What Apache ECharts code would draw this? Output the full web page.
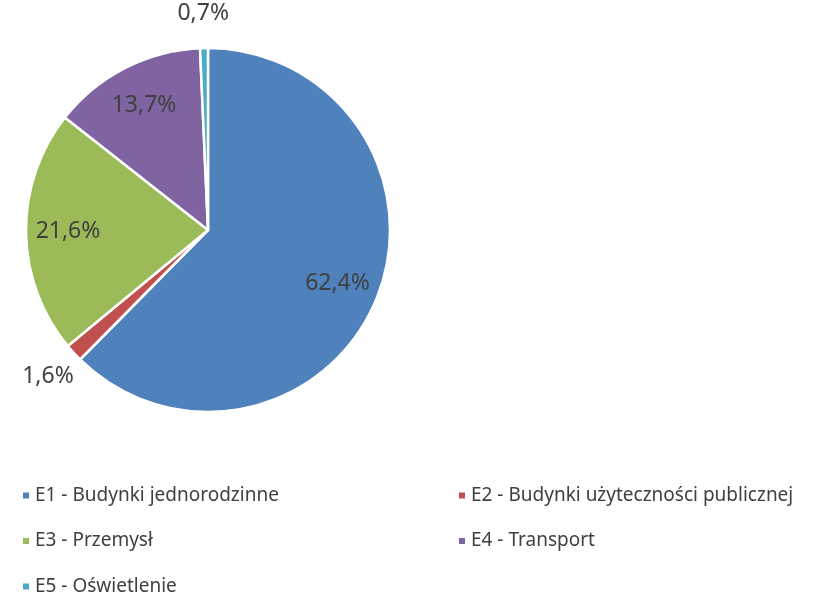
<!DOCTYPE html>
<html><head><meta charset="utf-8">
<script src="https://cdn.jsdelivr.net/npm/echarts@6/dist/echarts.min.js"></script>
<style>html,body{margin:0;padding:0;background:#fff}#c{width:813px;height:596px}</style>
</head><body><div id="c"></div>
<script>
const categories = ['E1 - Budynki jednorodzinne','E2 - Budynki użyteczności publicznej','E3 - Przemysł','E4 - Transport','E5 - Oświetlenie'];
const values = [62.4, 1.6, 21.6, 13.7, 0.7];
const colors = ['#4F81BD','#C0504D','#9BBB59','#8064A2','#4BACC6'];

const fmt = v => v.toFixed(1).replace('.', ',') + '%';
const isSmall = v => v < 5;
const center = [208, 230];
const font = '"Noto Sans", "Open Sans", sans-serif';

const mainData = categories.map((n,i)=>({name:n, value:values[i], itemStyle:{color:colors[i]}}));
const innerLabelData = categories.map((n,i)=>({name:n, value:values[i], label:{show:!isSmall(values[i])}}));
const outerLabelData = categories.map((n,i)=>({name:n, value:values[i], label:{show:isSmall(values[i])}}));

const labelStyle = {position:'inside', formatter: p => fmt(p.value), color:'#404040', fontSize:23, fontFamily:font};
const ghost = {color:'rgba(0,0,0,0)', borderWidth:0};
const legendText = {fontSize:19, color:'#404040', fontFamily:font};

const chart = echarts.init(document.getElementById('c'));
chart.setOption({
  animation:false,
  legend:[
    {orient:'vertical', left:16, top:481, height:130, itemWidth:8, itemHeight:8, itemGap:26.5, icon:'rect',
     data: categories.filter((_,i)=>i%2===0), textStyle:legendText},
    {orient:'vertical', left:452, top:481, height:130, itemWidth:8, itemHeight:8, itemGap:26.5, icon:'rect',
     data: categories.filter((_,i)=>i%2===1), textStyle:legendText}
  ],
  series:[
    {type:'pie', center:center, radius:[0,182], startAngle:90, clockwise:true, data:mainData,
     itemStyle:{borderColor:'#fff', borderWidth:2.5}, label:{show:false}, labelLine:{show:false}, silent:true},
    {type:'pie', center:center, radius:[92,182], startAngle:90, clockwise:true, data:innerLabelData,
     itemStyle:ghost, label:labelStyle, labelLine:{show:false}, silent:true, legendHoverLink:false},
    {type:'pie', center:center, radius:[182,246], startAngle:90, clockwise:true, data:outerLabelData,
     itemStyle:ghost, label:labelStyle, labelLine:{show:false}, silent:true, legendHoverLink:false}
  ]
});
</script></body></html>
